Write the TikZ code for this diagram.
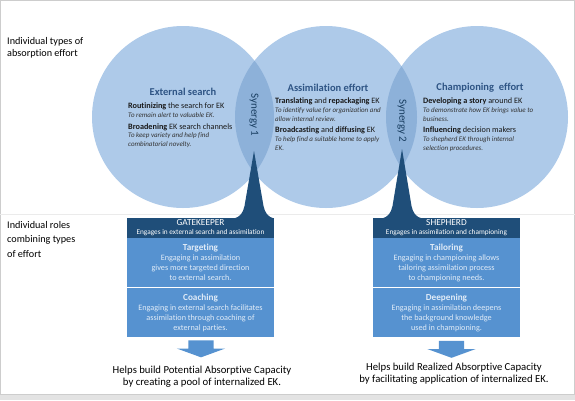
\documentclass[tikz,border=0pt]{standalone}
\usepackage{fontspec}
\setmainfont{Carlito}[Ligatures=NoCommon]
\usetikzlibrary{positioning, calc, shapes.arrows}

\definecolor{circfill}{RGB}{174,202,233}
\definecolor{lensfill}{RGB}{141,177,217}
\definecolor{navy}{RGB}{31,78,121}
\definecolor{boxblue}{RGB}{86,146,208}
\definecolor{boxtext}{RGB}{225,236,248}
\definecolor{ttlblue}{RGB}{46,84,132}
\definecolor{framegray}{RGB}{205,205,205}
\newcommand{\descfs}{\fontsize{7}{8.8}\selectfont\itshape\color{black!80}}
\newcommand{\secfs}{\fontsize{9.2}{10}\selectfont\bfseries}

\begin{document}
\begin{tikzpicture}[x=1pt, y=-1pt,
  circ/.style={fill=circfill},
  ttl/.style={font=\fontsize{10.5}{12}\selectfont\bfseries, text=ttlblue, inner sep=0pt},
  blk/.style={align=left, anchor=north west, inner sep=0pt, text=black!90,
              font=\fontsize{8.2}{8.8}\selectfont},
  syn/.style={rotate=-90, font=\fontsize{11}{12}\selectfont, text=navy!80!black, inner sep=0pt},
  rowlbl/.style={align=left, anchor=west, inner sep=0pt},
  hdr/.style={fill=navy, text=white, minimum width=147pt, minimum height=20pt,
              inner sep=0pt, align=center, font=\fontsize{9.3}{9}\selectfont},
  sect/.style={fill=boxblue, text=boxtext, minimum width=147pt, minimum height=48.5pt,
               inner sep=0pt, align=center, font=\fontsize{8.2}{10}\selectfont},
  pick/.style={single arrow, fill=boxblue, rotate=-90, inner xsep=0pt, inner ysep=12.5pt,
               single arrow head extend=11.5pt, single arrow tip angle=140, minimum height=17pt},
  outcome/.style={align=center, inner sep=0pt, font=\fontsize{10.7}{12.5}\selectfont}
]
  \useasboundingbox (0,0) rectangle (575,400);
  \fill[gray!22] (0,394) rectangle (575,400);
  \draw[framegray] (0.5,0.5) rectangle (574.5,394);
  \draw[black!8] (0,214) -- (575,214);

  % circles and overlaps
  \coordinate (cL) at (183,117);
  \coordinate (cM) at (326,117);
  \coordinate (cR) at (477,117);
  \foreach \c in {cL,cM,cR}
    \fill[circ] (\c) circle (91);
  \begin{scope}
    \clip (cM) circle (91);
    \fill[lensfill] (cL) circle (91);
    \fill[lensfill] (cR) circle (91);
  \end{scope}

  % row labels
  \node[rowlbl, font=\fontsize{10.2}{12.5}\selectfont] (lblA) at (7,48) {Individual types of\\absorption effort};
  \node[rowlbl, font=\fontsize{10.2}{14.5}\selectfont] (lblB) at (7,239) {Individual roles\\combining types\\of effort};

  % circle contents
  \node[ttl] (ext) at (183,92) {External search};
  \node[ttl] (asm) at (328,88) {Assimilation effort};
  \node[ttl] (chm) at (480,88) {Championing~~effort};

  \node[blk] (extB) at (128,103) {\textbf{Routinizing} the search for EK\\
    {\descfs To remain alert to valuable EK.}\\[2.6pt]
    \textbf{Broadening} EK search channels\\
    {\descfs To keep variety and help find}\\
    {\descfs combinatorial novelty.}};
  \node[blk] (asmB) at (275,98) {\textbf{Translating} and \textbf{repackaging} EK\\
    {\descfs To identify value for organization and}\\
    {\descfs allow internal review.}\\[2.6pt]
    \textbf{Broadcasting} and \textbf{diffusing} EK\\
    {\descfs To help find a suitable home to apply}\\
    {\descfs EK.}};
  \node[blk] (chmB) at (423,98) {\textbf{Developing a story} around EK\\
    {\descfs To demonstrate how EK brings value to}\\
    {\descfs business.}\\[2.6pt]
    \textbf{Influencing} decision makers\\
    {\descfs To shepherd EK through internal}\\
    {\descfs selection procedures.}};

  \node[syn] (syn1) at (254,115) {Synergy 1};
  \node[syn] (syn2) at (402,121) {Synergy 2};

  % role boxes
  \node[hdr] (gk) at (200.5,228) {GATEKEEPER\\{\fontsize{7.3}{8}\selectfont Engages in external search and assimilation}};
  \node[sect, below=0pt of gk] (tgt) {{\secfs Targeting}\\
    Engaging in assimilation\\gives more targeted direction\\to external search.};
  \node[sect, below=1pt of tgt] (cch) {{\secfs Coaching}\\
    Engaging in external search facilitates\\assimilation through coaching of\\external parties.};

  \node[hdr] (sh) at (446.5,228) {SHEPHERD\\{\fontsize{7.3}{8}\selectfont Engages in assimilation and championing}};
  \node[sect, below=0pt of sh] (tlr) {{\secfs Tailoring}\\
    Engaging in championing allows\\tailoring assimilation process\\to championing needs.};
  \node[sect, below=1pt of tlr] (dpn) {{\secfs Deepening}\\
    Engaging in assimilation deepens\\the background knowledge\\used in championing.};

  % pointers from synergies to roles
  \fill[navy] (254,151) -- (244.5,206) .. controls (243,213) and (240,217) .. (234,218.5)
    -- (274,218.5) .. controls (268,217) and (265,213) .. (263.5,206) -- cycle;
  \fill[navy] (402,149) -- (392.5,206) .. controls (391,213) and (388,217) .. (382,218.5)
    -- (422,218.5) .. controls (416,217) and (413,213) .. (411.5,206) -- cycle;

  % outcome arrows
  \node[pick] (arL) at (201,346.5) {};
  \node[pick] (arR) at (451.5,347) {};
  \node[outcome] (capL) at (202,376.5) {Helps build Potential Absorptive Capacity\\by creating a pool of internalized EK.};
  \node[outcome] (capR) at (454,373.5) {Helps build Realized Absorptive Capacity\\by facilitating application of internalized EK.};
\end{tikzpicture}
\end{document}
